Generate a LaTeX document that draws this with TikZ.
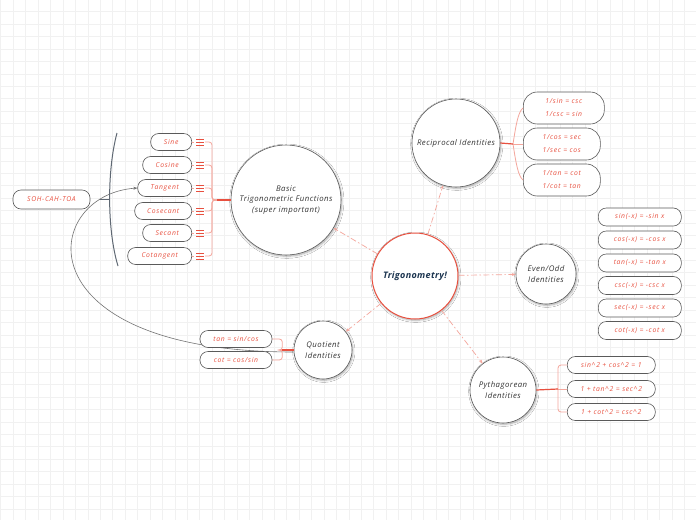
\documentclass[tikz,border=0pt]{standalone}
\usepackage{fontspec}
\setmainfont{Open Sans}
\usetikzlibrary{shadows.blur,arrows.meta,calc}
\definecolor{tred}{HTML}{E8503F}
\definecolor{tpink}{HTML}{F4A69C}
\definecolor{tgrid}{HTML}{F1F1F1}
\definecolor{tnavy}{HTML}{1C3550}
\definecolor{tedge}{HTML}{5A5A5A}
\definecolor{tslate}{HTML}{5F6873}
\begin{document}
\begin{tikzpicture}[x=1pt,y=-1pt,
  topic/.style={circle,draw=tedge,line width=0.6pt,fill=white,align=center,inner sep=0pt,
    font=\fontsize{7.8}{10.5}\selectfont\itshape\addfontfeatures{LetterSpace=6},text=black!80,
    blur shadow={shadow xshift=0.8pt,shadow yshift=-1.2pt,shadow blur steps=6,shadow opacity=35}},
  leaf/.style={rounded corners=8pt,draw=tedge,line width=0.6pt,fill=white,inner sep=1pt,
    minimum height=17pt,font=\fontsize{6.8}{8}\selectfont\itshape\addfontfeatures{LetterSpace=10},text=tred,align=center},
  leaf2/.style={leaf,rounded corners=14pt,minimum height=32pt,font=\fontsize{6.8}{13}\selectfont\itshape\addfontfeatures{LetterSpace=10}},
  link/.style={draw=tpink,line width=0.7pt,dash pattern=on 6pt off 2.5pt on 1.5pt off 2.5pt,
    -{Stealth[length=4pt,width=3pt,fill=tred]}},
  branch/.style={draw=tpink,line width=0.8pt,rounded corners=3pt},
  trunk/.style={draw=tred,line width=1.2pt},
  menu/.style={draw=tred,line width=0.8pt}
]
\useasboundingbox (0,0) rectangle (696,520);
\fill[white] (0,0) rectangle (696,520);
\foreach \i in {0,...,56} {\draw[tgrid,line width=0.6pt] (0.8+12.43*\i,0) -- (0.8+12.43*\i,520);}
\foreach \i in {0,...,42} {\draw[tgrid,line width=0.6pt] (0,-0.7+12.43*\i) -- (696,-0.7+12.43*\i);}

% main topics
\node[topic,minimum size=86pt,draw=tred,line width=1pt,font=\fontsize{9}{10}\selectfont\bfseries\itshape\addfontfeatures{LetterSpace=4},text=tnavy] (trig) at (415,276) {Trigonometry!};
\node[topic,minimum size=110pt] (basic) at (286,200) {Basic\\Trigonometric Functions\\(super important)};
\node[topic,minimum size=88pt] (recip) at (456,143) {Reciprocal Identities};
\node[topic,minimum size=60pt] (even) at (546,274) {Even/Odd\\Identities};
\node[topic,minimum size=66pt] (pyth) at (503,390) {Pythagorean\\Identities};
\node[topic,minimum size=58pt] (quot) at (323,350) {Quotient\\Identities};

% dashed links
\draw[link] (trig) -- (basic);
\draw[link] (trig) -- (recip);
\draw[link] (trig) -- (even);
\draw[link] (trig) -- (pyth);
\draw[link] (trig) -- (quot);

\coordinate (qw) at ($(quot.west)+(0,2)$);

% basic functions leaves
\coordinate (bj) at (217,200);
\foreach \n/\t/\w/\y in {sine/Sine/41/142, cosine/Cosine/49/165, tangent/Tangent/54/188, cosec/Cosecant/57/211, secant/Secant/49/233, cotan/Cotangent/64/256}{
  \node[leaf,minimum width=\w pt,anchor=east] (\n) at (192,\y) {\t};
  \coordinate (\n m) at (196,\y);
  \coordinate (\n e) at (205,\y);
  \draw[menu] ($(\n m)+(0,-3)$) -- ++(8,0) ($(\n m)$) -- ++(8,0) ($(\n m)+(0,3)$) -- ++(8,0);
  \draw[tpink,line width=0.6pt] (\n.east) -- ($(\n.east)+(2,0)$);
  \draw[branch] (\n e) -- ++(7,0) |- (bj);
}
\draw[trunk] (bj) -- (basic.west);

\draw[black!55,line width=0.6pt,-{Stealth[length=4pt,width=3pt]}] (qw) .. controls (20,352) and (40,195) .. (tangent.west);

% SOH-CAH-TOA
\node[leaf,minimum width=77pt,minimum height=19pt] (soh) at (51.5,199.5) {SOH-CAH-TOA};
\coordinate (sb) at (110,199.5);
\coordinate (st) at (117,133);
\coordinate (sbot) at (118,266);
\draw[tslate,line width=1pt] (st) .. controls (107,170) and (107,230) .. (sbot);
\draw[tslate,line width=1pt] ($(soh.east)+(10,0)$) -- (sb);

% quotient leaves
\node[leaf,minimum width=72pt] (q1) at (236,339) {tan = sin/cos};
\node[leaf,minimum width=72pt] (q2) at (236,360) {cot = cos/sin};
\coordinate (qj) at (282,350);
\draw[branch] (q1.east) -- ++(4,0) -- ++(6,0) |- (qj);
\draw[branch] (q2.east) -- ++(4,0) -- ++(6,0) |- (qj);
\draw[trunk] (qj) -- (quot.west);

% reciprocal leaves
\node[leaf2,minimum width=81pt,anchor=west] (r1) at (523,108) {1/sin = csc\\1/csc = sin};
\node[leaf2,minimum width=77pt,anchor=west] (r2) at (523,144) {1/cos = sec\\1/sec = cos};
\node[leaf2,minimum width=77pt,anchor=west] (r3) at (523,180) {1/tan = cot\\1/cot = tan};
\coordinate (rj) at (513,144);
\draw[tpink,line width=0.8pt] (rj) .. controls (516,125) and (518,112) .. (r1.west);
\draw[tpink,line width=0.8pt] (rj) -- (r2.west);
\draw[tpink,line width=0.8pt] (rj) .. controls (516,163) and (518,176) .. (r3.west);
\draw[trunk] (recip.east) -- (rj);

% even/odd leaves
\foreach \n/\t/\y in {e1/{sin(-x) = -sin x}/217, e2/{cos(-x) = -cos x}/240, e3/{tan(-x) = -tan x}/263, e4/{csc(-x) = -csc x}/285.5, e5/{sec(-x) = -sec x}/308, e6/{cot(-x) = -cot x}/330.5}{
  \node[leaf,minimum width=83pt,minimum height=18pt,anchor=west] (\n) at (598,\y) {\t};
}

% pythagorean leaves
\node[leaf,minimum width=88pt,anchor=west] (p1) at (567,365) {sin\^{}2 + cos\^{}2 = 1};
\node[leaf,minimum width=88pt,anchor=west] (p2) at (567,389) {1 + tan\^{}2 = sec\^{}2};
\node[leaf,minimum width=88pt,anchor=west] (p3) at (567,412) {1 + cot\^{}2 = csc\^{}2};
\coordinate (pj) at (558,389);
\draw[branch] (p1.west) -| (pj);
\draw[branch] (p3.west) -| (pj);
\draw[branch] (p2.west) -- (pj);
\draw[trunk] (pyth.east) -- (pj);
\end{tikzpicture}
\end{document}
